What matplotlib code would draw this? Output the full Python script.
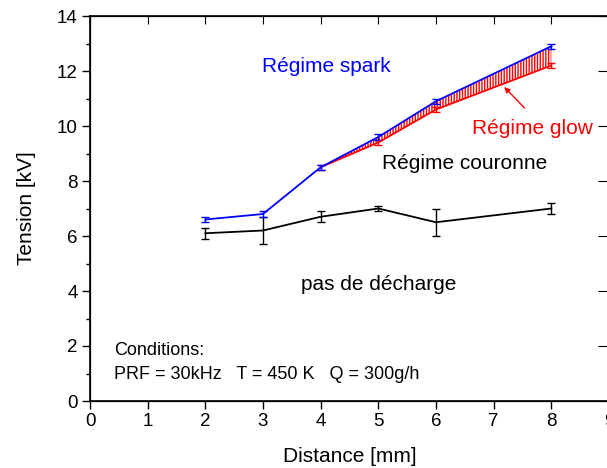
import matplotlib.pyplot as plt
import numpy as np

plt.rcParams['font.family'] = ['Liberation Sans', 'DejaVu Sans']

# data
dist_spark = [2, 3, 4, 5, 6, 8]
v_spark = [6.6, 6.8, 8.5, 9.6, 10.9, 12.9]
err_spark = [0.1, 0.1, 0.1, 0.1, 0.1, 0.1]

dist_glow = [4, 5, 6, 8]
v_glow = [8.5, 9.4, 10.6, 12.2]
err_glow = [0.1, 0.1, 0.1, 0.1]

dist_cour = [2, 3, 4, 5, 6, 8]
v_cour = [6.1, 6.2, 6.7, 7.0, 6.5, 7.0]
err_cour = [0.2, 0.5, 0.2, 0.1, 0.5, 0.2]

fig = plt.figure(figsize=(6.07, 4.68), dpi=100)
# right spine sits just past the image edge, like the original
ax = fig.add_axes([90 / 607, 67 / 468, 519 / 607, 385 / 468])

eb = dict(capsize=3, elinewidth=1, capthick=1, lw=1.3)
ax.errorbar(dist_cour, v_cour, yerr=err_cour, color='black', **eb)
ax.errorbar(dist_glow, v_glow, yerr=err_glow, color='red', **eb)
ax.errorbar(dist_spark, v_spark, yerr=err_spark, color='blue', **eb)

# hatched band between spark and glow
spark_on_glow = np.interp(dist_glow, dist_spark, v_spark)
ax.fill_between(dist_glow, v_glow, spark_on_glow, facecolor='none',
                edgecolor='red', hatch='||||||', linewidth=0)

ax.set_xlim(0, 9)
ax.set_ylim(0, 14)
ax.set_xticks(range(0, 10))
ax.set_yticks(range(0, 15, 2))
ax.set_yticks(range(1, 14, 2), minor=True)
ax.tick_params(axis='both', which='major', direction='out', length=6,
               width=1, labelsize=13.5, pad=3)
ax.tick_params(axis='y', which='minor', direction='out', length=3, width=1)
ax.tick_params(axis='x', which='minor', length=0)
for s in ax.spines.values():
    s.set_linewidth(1.2)

# inward ticks on top and right, no labels
ax2 = ax.twinx()
ax2.set_ylim(0, 14)
ax2.set_yticks(range(0, 15, 2))
ax2.tick_params(axis='y', direction='in', length=8, labelright=False)
ax3 = ax.twiny()
ax3.set_xlim(0, 9)
ax3.set_xticks(range(0, 10))
ax3.tick_params(axis='x', direction='in', length=6, labeltop=False)

ax.set_xlabel('Distance [mm]', fontsize=15, labelpad=12)
ax.set_ylabel('Tension [kV]', fontsize=15, labelpad=15)

ax.text(4.1, 12.15, 'Régime spark', color='blue', fontsize=15,
        ha='center', va='center')
ax.text(7.67, 9.9, 'Régime glow', color='red', fontsize=15,
        ha='center', va='center')
ax.annotate('', xy=(7.15, 11.49), xytext=(7.57, 10.58),
            arrowprops=dict(arrowstyle='-|>', color='red', lw=1,
                            mutation_scale=8))
ax.text(6.49, 8.62, 'Régime couronne', color='black', fontsize=15,
        ha='center', va='center')
ax.text(5.0, 4.25, 'pas de décharge', color='black', fontsize=15,
        ha='center', va='center')
ax.text(0.42, 1.82, 'Conditions:', fontsize=13, ha='left', va='center')
ax.text(0.42, 0.98, 'PRF = 30kHz   T = 450 K   Q = 300g/h', fontsize=13,
        ha='left', va='center')

fig.savefig('out.png', dpi=100)
